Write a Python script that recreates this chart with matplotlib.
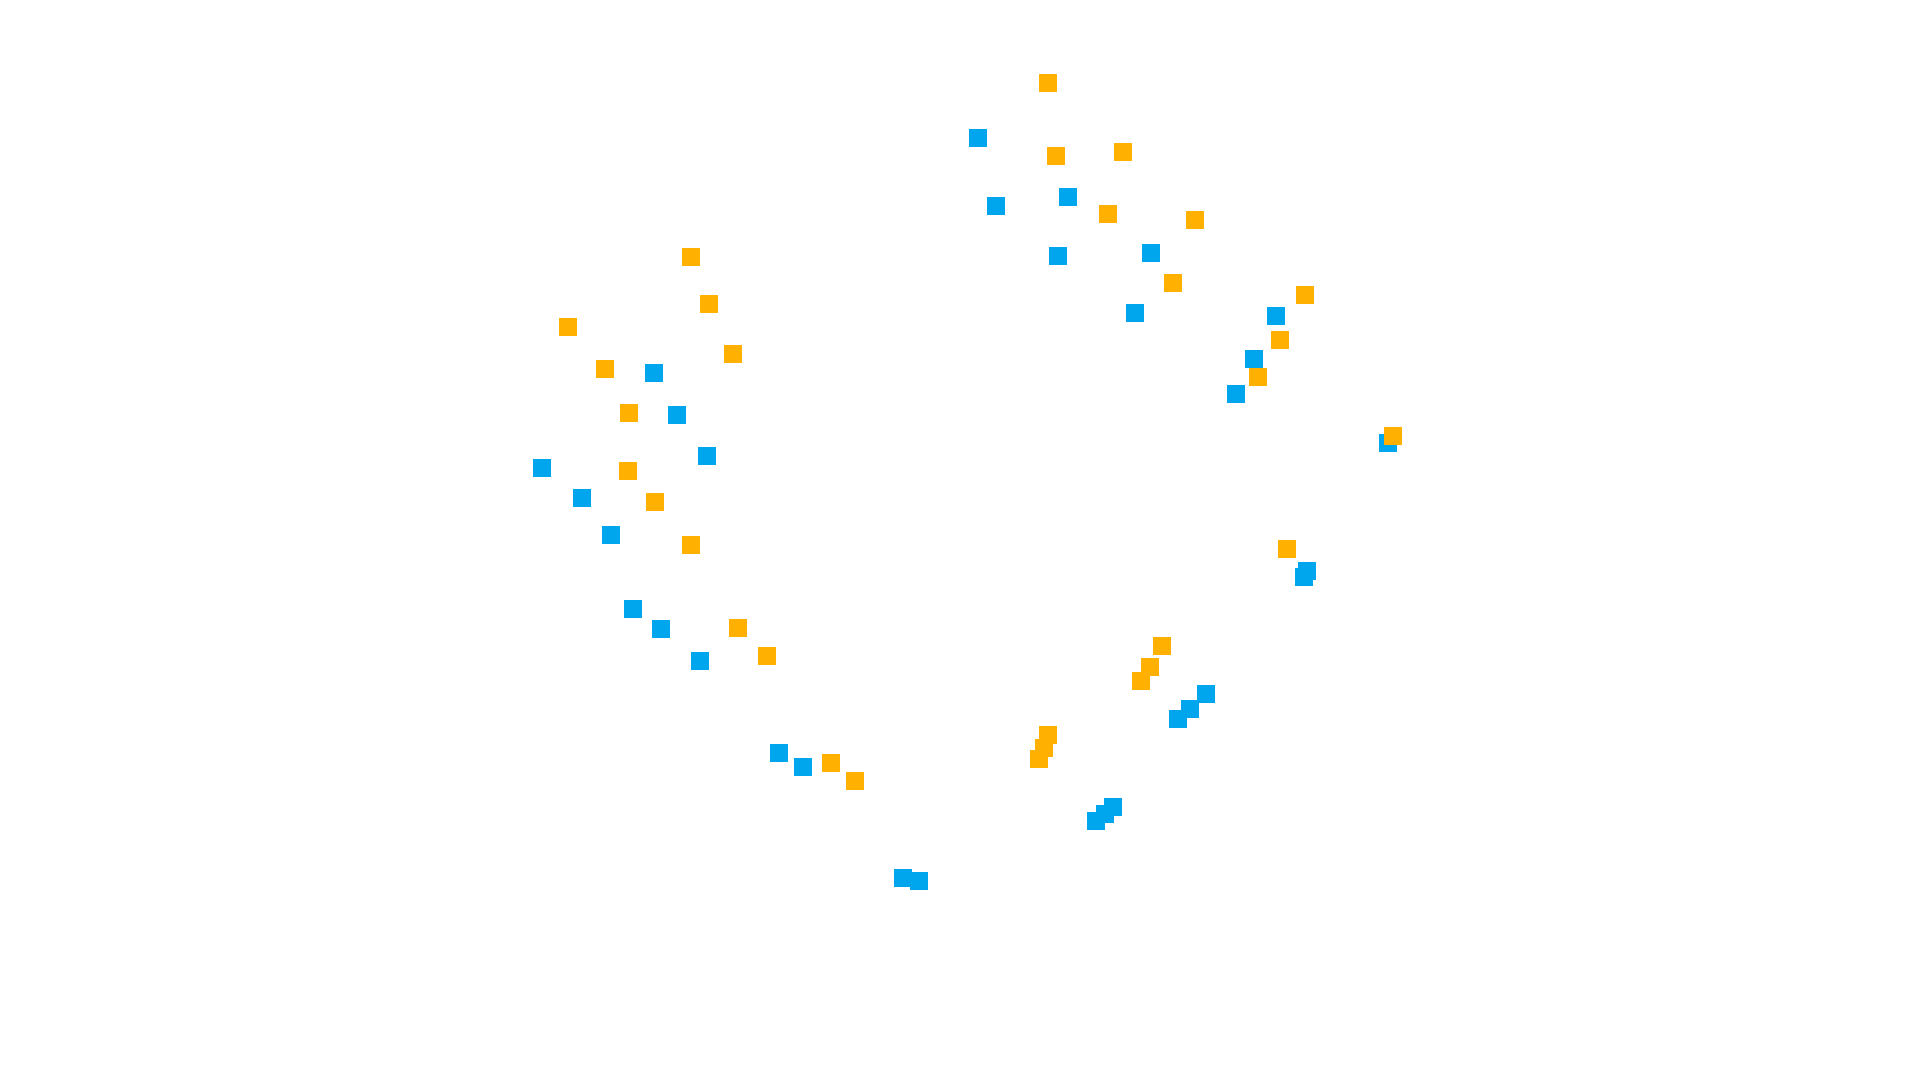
import numpy as np
import matplotlib.pyplot as plt

# point positions (pixel-like units, y downward)
orange_x = [1048, 1056, 1123, 1108, 1195, 1173, 1305, 1280, 1258, 1393,
            691, 709, 568, 733, 605, 629, 628, 655, 691, 1287,
            738, 767, 1162, 1150, 1141, 1048, 1044, 1039, 831, 855]
orange_y = [83, 156, 152, 214, 220, 283, 295, 340, 377, 436,
            257, 304, 327, 354, 369, 413, 471, 502, 545, 549,
            628, 656, 646, 667, 681, 735, 748, 759, 763, 781]

blue_x = [978, 996, 1068, 1058, 1151, 1135, 1276, 1254, 1236, 1388,
          654, 677, 707, 542, 582, 611, 633, 661, 700, 1307,
          1304, 1206, 1190, 1178, 779, 803, 1113, 1105, 1096, 903, 919]
blue_y = [138, 206, 197, 256, 253, 313, 316, 359, 394, 443,
          373, 415, 456, 468, 498, 535, 609, 629, 661, 571,
          577, 694, 709, 719, 753, 767, 807, 814, 821, 878, 881]

fig = plt.figure(figsize=(19.2, 10.8), dpi=100)
ax = fig.add_axes([0, 0, 1, 1])

ax.scatter(blue_x, blue_y, marker='s', s=185, color='#00A6ED', linewidths=0)
ax.scatter(orange_x, orange_y, marker='s', s=185, color='#FFB000', linewidths=0)

ax.set_xlim(0, 1920)
ax.set_ylim(1080, 0)
ax.axis('off')

fig.savefig('out.png', dpi=100)
